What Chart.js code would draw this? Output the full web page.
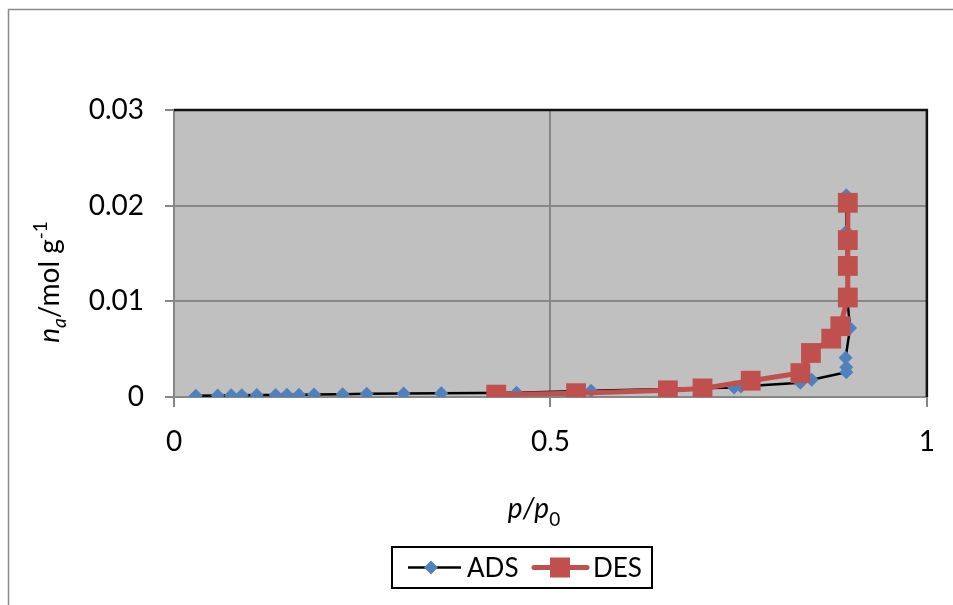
<!DOCTYPE html>
<html>
<head>
<meta charset="utf-8">
<script src="https://cdn.jsdelivr.net/npm/chart.js@4.4.1/dist/chart.umd.min.js"></script>
<style>
html,body{margin:0;padding:0;background:#fff;}
#wrap{width:953px;height:605px;position:relative;}
</style>
</head>
<body>
<div id="wrap"><canvas id="c" width="953" height="605"></canvas></div>
<script>
// ---- data ----
const adsX = [0.029,0.058,0.076,0.090,0.110,0.135,0.150,0.166,0.186,0.224,0.256,0.305,0.355,0.455,0.554,0.744,0.753,0.832,0.847,0.893,0.893,0.892,0.898,0.894,0.894,0.893,0.893];
const adsY = [0.00014,0.00016,0.00017,0.00018,0.0002,0.00022,0.00023,0.00024,0.00026,0.0003,0.00033,0.00036,0.0004,0.00045,0.00066,0.0010,0.0011,0.0015,0.0018,0.0026,0.0031,0.0041,0.0072,0.0105,0.0138,0.0173,0.0211];
const desX = [0.895,0.895,0.895,0.895,0.885,0.873,0.846,0.832,0.766,0.702,0.656,0.534,0.428];
const desY = [0.0203,0.0164,0.0137,0.0104,0.0074,0.0061,0.0046,0.0025,0.0017,0.0009,0.0007,0.0004,0.00025];
const seriesNames = ['ADS','DES'];
const xTickValues = [0,0.5,1];
const xTickLabels = ['0','0.5','1'];
const yTickValues = [0,0.01,0.02,0.03];
const yTickLabels = ['0','0.01','0.02','0.03'];

const FONT = 'Lato, "Liberation Sans", sans-serif';
const FS = 28;
const LFS = 26;
const BLUE = '#4f81bd', RED = '#c0504d', GRID = '#878787';

function pts(xs, ys){ return xs.map((x,i)=>({x:x, y:ys[i]})); }

function drawRich(ctx, parts, cx, baseY){
  let total = 0;
  parts.forEach(p=>{ ctx.font = (p.italic?'italic ':'') + p.size + 'px ' + FONT; p.w = ctx.measureText(p.t).width; total += p.w; });
  let x = cx - total/2;
  ctx.textBaseline = 'alphabetic';
  ctx.textAlign = 'left';
  parts.forEach(p=>{ ctx.font = (p.italic?'italic ':'') + p.size + 'px ' + FONT; ctx.fillText(p.t, x, baseY + (p.dy||0)); x += p.w; });
}

const decor = {
  id:'decor',
  beforeDraw(chart){
    const {ctx, chartArea:a} = chart;
    ctx.save();
    ctx.fillStyle = '#fff';
    ctx.fillRect(0,0,chart.width,chart.height);
    ctx.strokeStyle = '#8a8a8a';
    ctx.lineWidth = 1.5;
    ctx.beginPath();
    ctx.moveTo(8.5, chart.height+5); ctx.lineTo(8.5, 9.5); ctx.lineTo(chart.width+5, 9.5);
    ctx.stroke();
    ctx.fillStyle = '#c0c0c0';
    ctx.fillRect(a.left, a.top, a.right-a.left, a.bottom-a.top);
    ctx.restore();
  },
  afterDraw(chart){
    const {ctx, chartArea:a} = chart;
    ctx.save();
    ctx.strokeStyle = '#111';
    ctx.lineWidth = 2.5;
    ctx.beginPath();
    ctx.moveTo(a.left, a.top); ctx.lineTo(a.right, a.top); ctx.lineTo(a.right, a.bottom);
    ctx.stroke();
    ctx.fillStyle = '#000';
    // x title
    drawRich(ctx, [
      {t:'p', italic:true, size:FS},
      {t:'/', italic:true, size:FS},
      {t:'p', italic:true, size:FS},
      {t:'0', italic:false, size:Math.round(FS*0.68), dy:8}
    ], 534, 518);
    // y title
    ctx.save();
    ctx.translate(59, 282);
    ctx.rotate(-Math.PI/2);
    drawRich(ctx, [
      {t:'n', italic:true, size:FS},
      {t:'a', italic:true, size:Math.round(FS*0.68), dy:7},
      {t:'/mol g', italic:false, size:FS},
      {t:'-1', italic:false, size:Math.round(FS*0.68), dy:-12}
    ], 0, 0);
    ctx.restore();
    // legend
    const ds = chart.data.datasets;
    ctx.strokeStyle = '#000';
    ctx.lineWidth = 2;
    ctx.strokeRect(392, 547, 260, 41);
    const ly = 567.5;
    ctx.strokeStyle = ds[0].borderColor; ctx.lineWidth = ds[0].borderWidth;
    ctx.beginPath(); ctx.moveTo(408, ly); ctx.lineTo(461, ly); ctx.stroke();
    ctx.fillStyle = ds[0].pointBackgroundColor;
    ctx.beginPath(); ctx.moveTo(431-7, ly); ctx.lineTo(431, ly-7); ctx.lineTo(431+7, ly); ctx.lineTo(431, ly+7); ctx.closePath(); ctx.fill();
    ctx.strokeStyle = ds[1].borderColor; ctx.lineWidth = ds[1].borderWidth; ctx.lineCap = 'round';
    ctx.beginPath(); ctx.moveTo(534, ly); ctx.lineTo(587, ly); ctx.stroke();
    ctx.fillStyle = ds[1].pointBackgroundColor;
    ctx.fillRect(560-10, ly-10, 20, 20);
    ctx.fillStyle = '#000';
    ctx.font = LFS + 'px ' + FONT;
    ctx.textBaseline = 'middle'; ctx.textAlign = 'left';
    ctx.fillText(ds[0].label, 467, ly+1);
    ctx.fillText(ds[1].label, 593, ly+1);
    ctx.restore();
  }
};

new Chart(document.getElementById('c'), {
  type:'scatter',
  data:{
    datasets:[
      {label:seriesNames[0], data:pts(adsX,adsY), showLine:true, borderColor:'#000', borderWidth:2.5,
       pointStyle:'rectRot', pointRadius:7, pointHoverRadius:7, pointBackgroundColor:BLUE, pointBorderColor:BLUE, pointBorderWidth:0, order:2, tension:0},
      {label:seriesNames[1], data:pts(desX,desY), showLine:true, borderColor:RED, borderWidth:5,
       pointStyle:'rect', pointRadius:14, pointHoverRadius:14, pointBackgroundColor:RED, pointBorderColor:RED, pointBorderWidth:0, order:1, tension:0}
    ]
  },
  options:{
    responsive:false, animation:false, devicePixelRatio:1,
    layout:{padding:{left:0, top:110, right:24, bottom:0}},
    plugins:{legend:{display:false}, tooltip:{enabled:false}, title:{display:false}},
    scales:{
      x:{
        type:'linear', min:0, max:1,
        afterBuildTicks(s){ s.ticks = xTickValues.map(v=>({value:v})); },
        afterFit(s){ s.height = 208; },
        ticks:{ callback:(v,i)=>xTickLabels[i], font:{family:FONT, size:FS}, color:'#000', padding:18, maxRotation:0, autoSkip:false },
        grid:{ color:GRID, lineWidth:2, tickLength:10, drawTicks:true, tickColor:GRID },
        border:{ color:GRID, width:2 }
      },
      y:{
        type:'linear', min:0, max:0.03,
        afterBuildTicks(s){ s.ticks = yTickValues.map(v=>({value:v})); },
        afterFit(s){ s.width = 174; },
        ticks:{ callback:(v,i)=>yTickLabels[i], font:{family:FONT, size:FS}, color:'#000', padding:21, autoSkip:false },
        grid:{ color:GRID, lineWidth:2, tickLength:9, drawTicks:true, tickColor:GRID },
        border:{ color:GRID, width:2 }
      }
    }
  },
  plugins:[decor]
});
</script>
</body>
</html>
